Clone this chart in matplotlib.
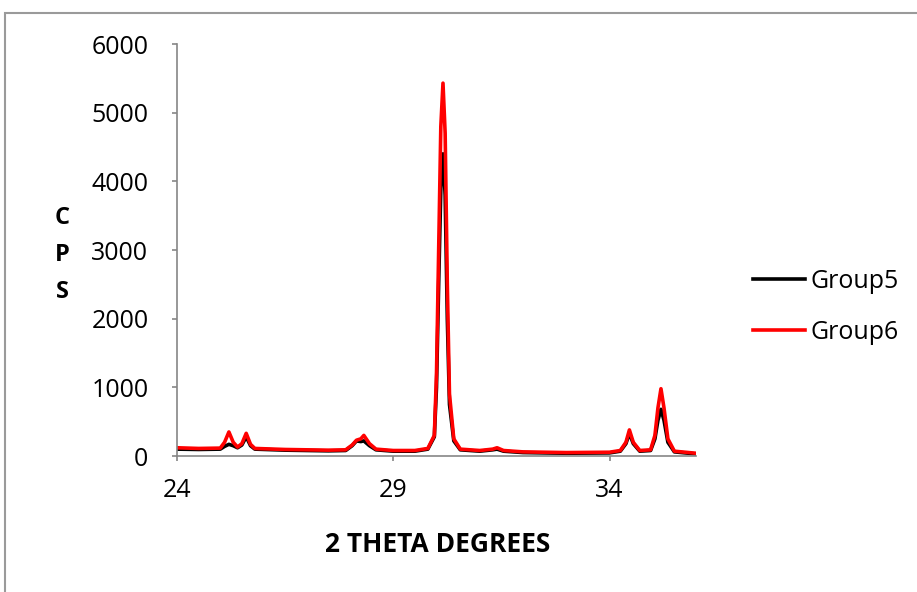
import matplotlib
matplotlib.use("Agg")
import matplotlib.pyplot as plt
from matplotlib.patches import Rectangle

plt.rcParams["font.family"] = ["Open Sans", "DejaVu Sans"]

# points (2 theta, cps)
two_theta_g6 = [24.0, 24.5, 25.0, 25.1, 25.2, 25.3, 25.4, 25.5, 25.6, 25.7, 25.8,
                26.5, 27.0, 27.5, 27.9, 28.05, 28.15, 28.25, 28.32, 28.45, 28.6,
                29.0, 29.5, 29.8, 29.95, 30.0, 30.05, 30.1, 30.15, 30.2, 30.25,
                30.3, 30.4, 30.55, 31.0, 31.3, 31.4, 31.55, 32.0, 33.0, 34.0,
                34.25, 34.38, 34.46, 34.55, 34.7, 34.95, 35.05, 35.12, 35.19,
                35.26, 35.35, 35.5, 36.0]
cps_g6 = [120, 110, 115, 200, 350, 200, 130, 180, 330, 170, 110,
          95, 90, 85, 90, 160, 230, 250, 300, 180, 100,
          80, 80, 110, 300, 1200, 3000, 4800, 5430, 4700, 2500,
          900, 250, 100, 80, 100, 120, 80, 60, 50, 55,
          80, 200, 380, 200, 80, 90, 300, 700, 980,
          700, 250, 70, 40]

two_theta_g5 = [24.0, 24.5, 25.0, 25.1, 25.2, 25.3, 25.4, 25.5, 25.6, 25.7, 25.8,
                26.5, 27.0, 27.5, 27.9, 28.05, 28.15, 28.25, 28.32, 28.45, 28.6,
                29.0, 29.5, 29.8, 29.95, 30.0, 30.05, 30.1, 30.15, 30.2, 30.25,
                30.3, 30.4, 30.55, 31.0, 31.3, 31.4, 31.55, 32.0, 33.0, 34.0,
                34.25, 34.38, 34.46, 34.55, 34.7, 34.95, 35.05, 35.12, 35.19,
                35.26, 35.35, 35.5, 36.0]
cps_g5 = [100, 95, 100, 140, 170, 150, 120, 160, 280, 150, 100,
          85, 80, 75, 80, 150, 220, 210, 220, 150, 90,
          70, 70, 100, 280, 1000, 2500, 3900, 4400, 3800, 2000,
          750, 220, 90, 70, 90, 100, 70, 50, 40, 45,
          70, 180, 330, 180, 70, 80, 250, 520, 680,
          520, 200, 60, 30]

x_ticks = [24, 29, 34]
y_ticks = [0, 1000, 2000, 3000, 4000, 5000, 6000]

fig = plt.figure(figsize=(9.17, 5.92), dpi=100)
ax = fig.add_axes([177 / 917, 1 - 456 / 592, (696 - 177) / 917, (456 - 44) / 592])

ax.plot(two_theta_g5, cps_g5, color="black", linewidth=2.6, label="Group5")
ax.plot(two_theta_g6, cps_g6, color="#ff0000", linewidth=2.6, label="Group6")

ax.set_xlim(24, 36)
ax.set_ylim(0, 6000)
ax.set_xticks(x_ticks)
ax.set_yticks(y_ticks)
ax.tick_params(axis="both", direction="out", length=3.6, width=1.2, color="#868686",
               labelsize=18)
ax.tick_params(axis="y", pad=17)
ax.tick_params(axis="x", pad=12)
for side in ("top", "right"):
    ax.spines[side].set_visible(False)
for side in ("left", "bottom"):
    ax.spines[side].set_color("#868686")
    ax.spines[side].set_linewidth(1.2)

fig.text(62 / 917, 1 - 255 / 592, "C\nP\nS", ha="center", va="center",
         fontsize=17, fontweight="bold", linespacing=1.75)
fig.text(438 / 917, 1 - 544 / 592, "2 THETA DEGREES", ha="center", va="center",
         fontsize=19, fontweight="bold")

ax.legend(loc="center left", bbox_to_anchor=(730 / 917, 1 - 307 / 592),
          bbox_transform=fig.transFigure, frameon=False, fontsize=18,
          handlelength=2.1, handletextpad=0.2, labelspacing=1.05)

# outer chart frame (only top and left edges fall inside the picture)
fig.add_artist(Rectangle((5 / 917, -0.1), 1.2, 1 - 13 / 592 + 0.1,
                         transform=fig.transFigure, fill=False,
                         edgecolor="#9a9a9a", linewidth=1.5, clip_on=False))

fig.savefig("out.png", dpi=100)
